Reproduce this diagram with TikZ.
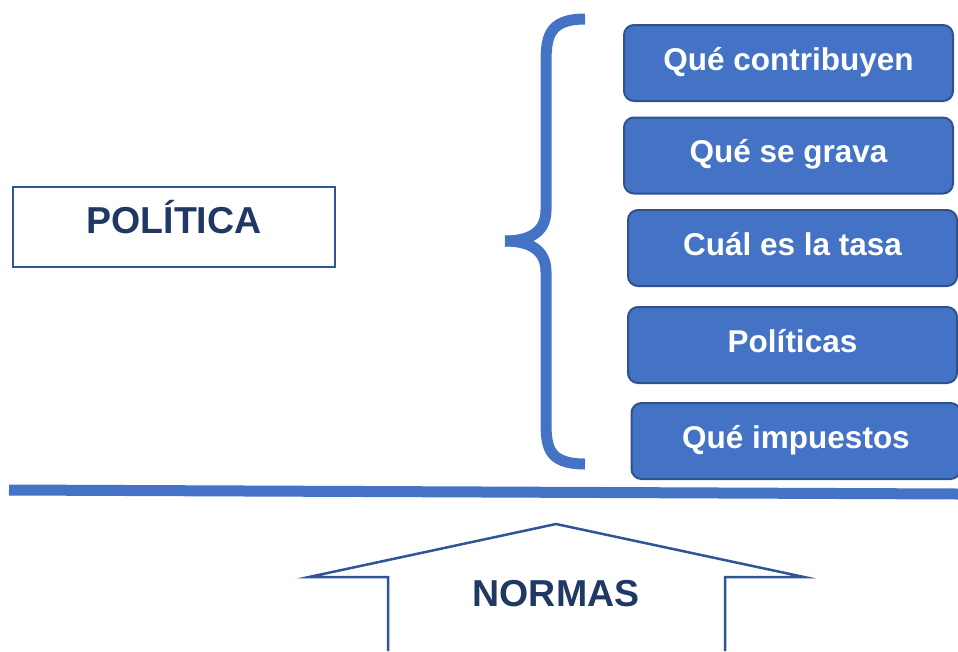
\documentclass[tikz,border=0pt]{standalone}
\usepackage{fontspec}
\setmainfont{Liberation Sans}
\definecolor{boxblue}{HTML}{4472C4}
\definecolor{boxedge}{HTML}{2F528F}
\definecolor{lineblue}{HTML}{2F5597}
\definecolor{navy}{HTML}{203864}
\tikzset{
	item/.style={draw=boxedge, line width=2pt, fill=boxblue, rounded corners=10pt,
		minimum width=329pt, minimum height=76pt, text=white,
		font=\fontsize{31.5}{34}\selectfont\bfseries, text height=22.5pt, text depth=8.5pt, inner sep=0pt},
	title/.style={text=navy, font=\fontsize{37.5}{40}\selectfont\bfseries}
}

\begin{document}
\begin{tikzpicture}[x=1pt, y=-1pt]
			%%%%% START %%%%%
			\useasboundingbox (0, 0) rectangle (958, 651);
			
			\node[title, draw=lineblue, line width=2.5pt, minimum width=322pt, minimum height=80pt,
				text height=28pt, text depth=16pt, inner sep=0pt] (politica) at (174, 227) {POLÍTICA};
			
			% brace
			\draw[line width=11pt, color=boxblue] (585, 19) .. controls (546, 19) and (546, 40) .. (546, 67)
				-- (546, 210) .. controls (546, 232) and (530, 241) .. (505, 241);
			\draw[line width=11pt, color=boxblue] (505, 241) .. controls (530, 241) and (546, 250) .. (546, 272)
				-- (546, 418) .. controls (546, 445) and (546, 464) .. (585, 464);
			
			\node[item] (contribuyen) at (788.5, 63) {Qué contribuyen};
			\node[item] (grava) at (788.5, 155.5) {Qué se grava};
			\node[item] (tasa) at (792.5, 248) {Cuál es la tasa};
			\node[item] (politicas) at (792.5, 345) {Políticas};
			\node[item] (impuestos) at (796, 441) {Qué impuestos};
			
			\draw[line width=11pt, color=boxblue] (9, 490) -- (958, 494);
			
			% arrow
			\draw[line width=2.5pt, color=lineblue, line join=miter, miter limit=12] (388, 651) -- (388, 577)
				-- (309, 577) -- (556, 524) -- (804, 577) -- (725, 577) -- (725, 651);
			\node[title, anchor=base] (normas) at (556, 606) {NORMAS};
			
			%%%%% END %%%%%
		\end{tikzpicture}
\end{document}
